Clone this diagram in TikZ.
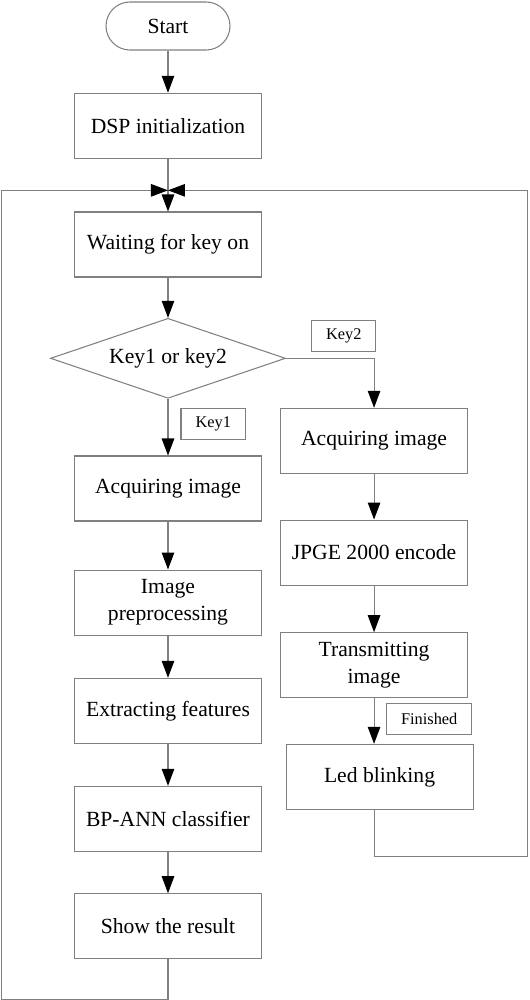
\documentclass[tikz,border=0pt]{standalone}
\usepackage{fontspec}
\setmainfont{Liberation Serif}
\usetikzlibrary{shapes.geometric,arrows.meta,positioning}

\begin{document}
\begin{tikzpicture}[
    node distance=0.85cm,
    every node/.style={font=\fontsize{12.3}{15.5}\selectfont},
    process/.style={rectangle, draw=gray, line width=0.6pt, minimum width=3.74cm, minimum height=1.3cm, align=center, inner sep=2pt},
    terminal/.style={rectangle, rounded corners=0.48cm, draw=gray, line width=0.6pt, minimum width=2.48cm, minimum height=0.96cm},
    decision/.style={diamond, draw=gray, line width=0.6pt, aspect=2.9, minimum width=4.7cm, minimum height=1.6cm, inner sep=0pt},
    tag/.style={rectangle, draw=gray, line width=0.6pt, minimum height=0.62cm, inner xsep=0.29cm, font=\fontsize{9.3}{11}\selectfont},
    arrow/.style={draw=gray, line width=0.6pt, -{Triangle[length=0.34cm, width=0.25cm, color=black]}}
]
\useasboundingbox (-3.36,0.52) rectangle (7.22,-19.48);

% LEFT COLUMN
\node[terminal] (start) {Start};
\node[process, below=0.845cm of start] (init) {DSP initialization};
\coordinate[below=0.63cm of init] (merge);
\node[process, below=1.053cm of init] (wait) {Waiting for key on};
\node[decision, below=0.805cm of wait] (choose) {Key1 or key2};
\node[process, below=1.133cm of choose] (acq1) {Acquiring image};
\node[process, below=0.959cm of acq1] (prep) {Image\\preprocessing};
\node[process, below=0.845cm of prep] (feat) {Extracting features};
\node[process, below=0.839cm of feat] (classify) {BP-ANN classifier};
\node[process, below=0.827cm of classify] (show) {Show the result};

% RIGHT COLUMN
\node[process, below right=0.99cm and -0.12cm of choose.east] (acq2) {Acquiring image};
\node[process, below=0.913cm of acq2] (encode) {JPGE 2000 encode};
\node[process, below=0.933cm of encode] (transmit) {Transmitting\\image};
\node[process, below=0.911cm of transmit, xshift=0.11cm] (blink) {Led blinking};

% LABELS
\node[tag, above right=0.12cm and 0.5cm of choose.east] (key2) {Key2};
\node[tag, below right=0.18cm and 0.25cm of choose.south] (key1) {Key1};
\node[tag, below right=0.09cm and 0.24cm of transmit.south] (done) {Finished};

% RAILS
\coordinate[left=1.45cm of init.west] (westrail);
\coordinate[right=1.18cm of acq2.east] (eastrail);

% CONNECTIONS
\draw[arrow] (start) -- (init);
\draw[arrow] (init) -- (wait);
\draw[arrow] (wait) -- (choose);
\draw[arrow] (choose) -- (acq1);
\draw[arrow] (acq1) -- (prep);
\draw[arrow] (prep) -- (feat);
\draw[arrow] (feat) -- (classify);
\draw[arrow] (classify) -- (show);
\draw[arrow] (choose.east) -| (acq2.north);
\draw[arrow] (acq2) -- (encode);
\draw[arrow] (encode) -- (transmit);
\draw[arrow] (transmit.south) -- (transmit.south |- blink.north);
% LOOPS BACK
\draw[arrow] (show.south) -- ++(0,-0.8cm) -| (westrail |- merge) -- (merge);
\draw[arrow] (blink.south -| transmit.south) -- ++(0,-0.93cm) -| (eastrail |- merge) -- (merge);

\end{tikzpicture}
\end{document}
